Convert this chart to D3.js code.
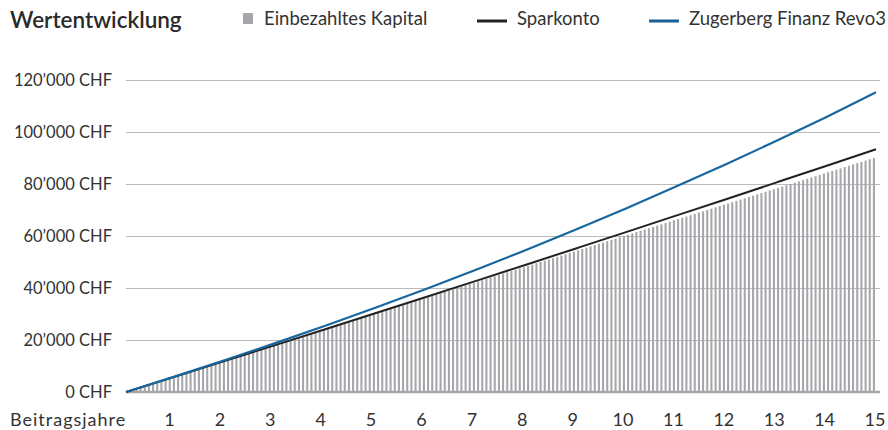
<!DOCTYPE html>
<html lang="de">
<head>
    <meta charset="UTF-8">
    <title>Wertentwicklung</title>
    <script src="https://d3js.org/d3.v7.min.js"></script>
    <style>
        body { margin: 0; background: #fff; font-family: Lato, "Open Sans", sans-serif; }
    </style>
</head>
<body>
<div id="chart"></div>
<script>
    // Jahre auf der x-Achse
    const years = [1, 2, 3, 4, 5, 6, 7, 8, 9, 10, 11, 12, 13, 14, 15];

    // Stuetzpunkte der Linien (Jahr 0..15)
    const lineYears = [0, 1, 2, 3, 4, 5, 6, 7, 8, 9, 10, 11, 12, 13, 14, 15];
    const sparkonto = [0, 6020, 12060, 18140, 24240, 30380, 36540, 42740, 48960, 55220, 61500, 67820, 74160, 80540, 86940, 93380];
    const revo3 = [0, 6100, 12400, 18900, 25600, 32500, 39600, 47000, 54600, 62500, 70600, 79000, 87600, 96500, 105700, 115300];

    // Einbezahltes Kapital pro Monat (180 Monate)
    const einbezahlt = [
        500, 1000, 1500, 2000, 2500, 3000, 3500, 4000, 4500, 5000, 5500, 6000,
        6500, 7000, 7500, 8000, 8500, 9000, 9500, 10000, 10500, 11000, 11500, 12000,
        12500, 13000, 13500, 14000, 14500, 15000, 15500, 16000, 16500, 17000, 17500, 18000,
        18500, 19000, 19500, 20000, 20500, 21000, 21500, 22000, 22500, 23000, 23500, 24000,
        24500, 25000, 25500, 26000, 26500, 27000, 27500, 28000, 28500, 29000, 29500, 30000,
        30500, 31000, 31500, 32000, 32500, 33000, 33500, 34000, 34500, 35000, 35500, 36000,
        36500, 37000, 37500, 38000, 38500, 39000, 39500, 40000, 40500, 41000, 41500, 42000,
        42500, 43000, 43500, 44000, 44500, 45000, 45500, 46000, 46500, 47000, 47500, 48000,
        48500, 49000, 49500, 50000, 50500, 51000, 51500, 52000, 52500, 53000, 53500, 54000,
        54500, 55000, 55500, 56000, 56500, 57000, 57500, 58000, 58500, 59000, 59500, 60000,
        60500, 61000, 61500, 62000, 62500, 63000, 63500, 64000, 64500, 65000, 65500, 66000,
        66500, 67000, 67500, 68000, 68500, 69000, 69500, 70000, 70500, 71000, 71500, 72000,
        72500, 73000, 73500, 74000, 74500, 75000, 75500, 76000, 76500, 77000, 77500, 78000,
        78500, 79000, 79500, 80000, 80500, 81000, 81500, 82000, 82500, 83000, 83500, 84000,
        84500, 85000, 85500, 86000, 86500, 87000, 87500, 88000, 88500, 89000, 89500, 90000
    ];

    const yTicks = [0, 20000, 40000, 60000, 80000, 100000, 120000];

    const width = 888, height = 430;
    const plotLeft = 126, plotRight = 876, plotTop = 80, plotBottom = 392;

    const svg = d3.select("#chart").append("svg")
        .attr("width", width)
        .attr("height", height);

    const x = d3.scaleLinear().domain([0, 15]).range([plotLeft, plotRight]);
    const xBand = d3.scaleBand().domain(d3.range(einbezahlt.length)).range([plotLeft, plotRight]).paddingInner(0.5).paddingOuter(0.25);
    const xLabel = d3.scaleLinear().domain([1, 15]).range([169.5, 875]);
    const y = d3.scaleLinear().domain([0, 120000]).range([plotBottom, plotTop]);

    const fmt = v => d3.format(",")(v).replace(/,/g, "\u2019") + " CHF";

    // Gitterlinien
    svg.append("g")
        .selectAll("line")
        .data(yTicks.filter(d => d > 0))
        .enter().append("line")
        .attr("x1", plotLeft).attr("x2", 880)
        .attr("y1", d => y(d) + 0.5).attr("y2", d => y(d) + 0.5)
        .attr("stroke", "#b9babc").attr("stroke-width", 1);

    // y-Beschriftung
    svg.append("g")
        .selectAll("text")
        .data(yTicks)
        .enter().append("text")
        .attr("x", 112)
        .attr("y", d => y(d) + 6)
        .attr("text-anchor", "end")
        .attr("font-size", 16.5)
        .attr("fill", "#333")
        .text(fmt);

    // Balken
    svg.append("g")
        .selectAll("rect")
        .data(einbezahlt)
        .enter().append("rect")
        .attr("x", (d, i) => xBand(i))
        .attr("width", xBand.bandwidth())
        .attr("y", d => y(d))
        .attr("height", d => plotBottom - y(d))
        .attr("fill", "#a6a7ab");

    // Nulllinie
    svg.append("line")
        .attr("x1", plotLeft).attr("x2", 880)
        .attr("y1", plotBottom).attr("y2", plotBottom)
        .attr("stroke", "#a6a7ab").attr("stroke-width", 2.5);

    const line = d3.line().x((d, i) => x(lineYears[i])).y(d => y(d)).curve(d3.curveMonotoneX);

    svg.append("path")
        .datum(sparkonto)
        .attr("d", line)
        .attr("fill", "none")
        .attr("stroke", "#222")
        .attr("stroke-width", 2);

    svg.append("path")
        .datum(revo3)
        .attr("d", line)
        .attr("fill", "none")
        .attr("stroke", "#17679e")
        .attr("stroke-width", 2.2);

    // x-Beschriftung
    svg.append("text")
        .attr("x", 10).attr("y", 426)
        .attr("font-size", 18).attr("letter-spacing", 1).attr("fill", "#333")
        .text("Beitragsjahre");

    svg.append("g")
        .selectAll("text")
        .data(years)
        .enter().append("text")
        .attr("x", d => xLabel(d))
        .attr("y", 426)
        .attr("text-anchor", "middle")
        .attr("font-size", 18).attr("fill", "#333")
        .text(d => d);

    // Titel
    svg.append("text")
        .attr("x", 10).attr("y", 28)
        .attr("font-size", 22.5).attr("font-weight", 600).attr("fill", "#2a2a2a")
        .text("Wertentwicklung");

    // Legende
    const legend = svg.append("g");
    legend.append("rect").attr("x", 243).attr("y", 13).attr("width", 10).attr("height", 11).attr("fill", "#a6a7ab");
    legend.append("text").attr("x", 264).attr("y", 25).attr("font-size", 18.5).attr("fill", "#333").text("Einbezahltes Kapital");
    legend.append("line").attr("x1", 477).attr("x2", 507).attr("y1", 21).attr("y2", 21).attr("stroke", "#222").attr("stroke-width", 3);
    legend.append("text").attr("x", 517).attr("y", 25).attr("font-size", 18.5).attr("fill", "#333").text("Sparkonto");
    legend.append("line").attr("x1", 649).attr("x2", 679).attr("y1", 21).attr("y2", 21).attr("stroke", "#1d5f95").attr("stroke-width", 3);
    legend.append("text").attr("x", 689).attr("y", 25).attr("font-size", 18.5).attr("fill", "#333").text("Zugerberg Finanz Revo3");
</script>
</body>
</html>
